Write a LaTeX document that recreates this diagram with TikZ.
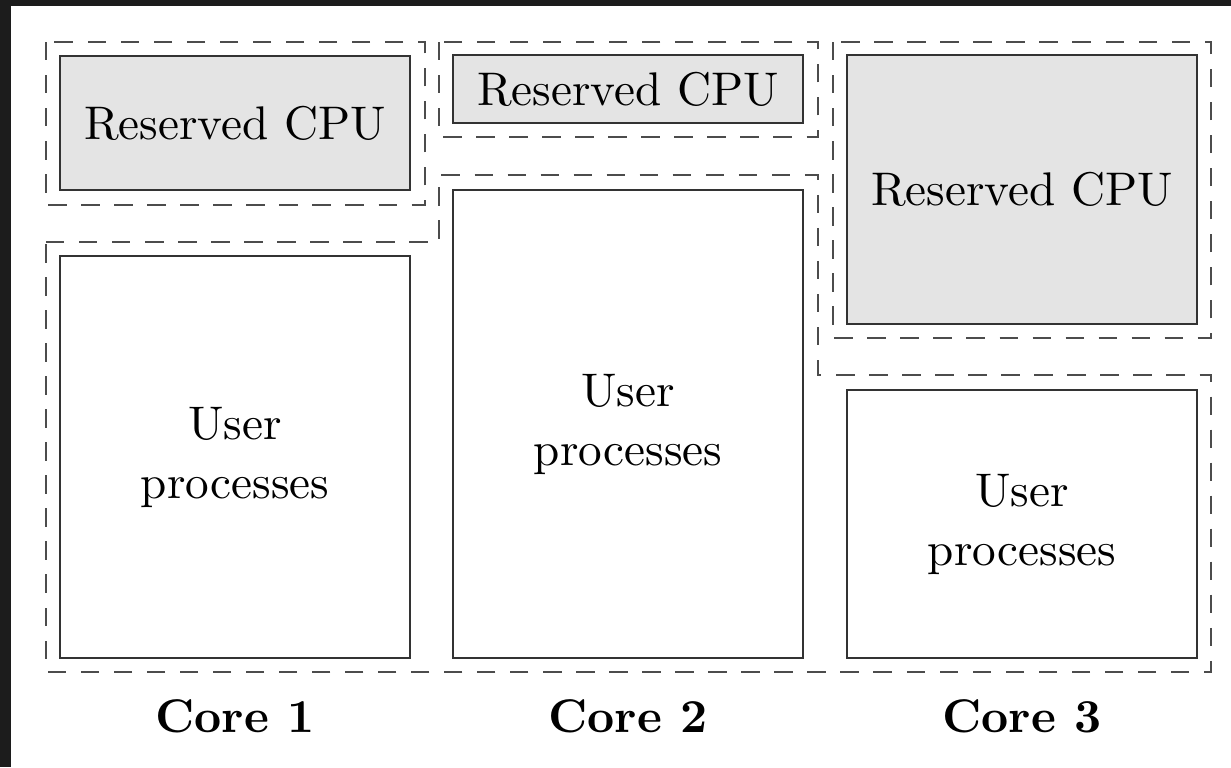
\documentclass[tikz,border=0pt]{standalone}
\usepackage{tikz}
\definecolor{resv}{RGB}{228,228,228}
\definecolor{frame}{RGB}{28,28,28}
\newcommand{\pxu}{0.2119pt}
\tikzset{
  box/.style={draw=black!80, line width=0.5pt, rectangle, inner sep=0pt, align=center, font=\fontsize{10}{12.5}\selectfont},
  resbox/.style={box, fill=resv},
  grp/.style={draw=black!70, line width=0.6pt, dash pattern=on 3.9pt off 3.1pt},
  corelbl/.style={font=\fontsize{10}{12}\selectfont\bfseries}
}
\begin{document}
\begin{tikzpicture}[x=0.2119pt, y=-0.2119pt]
  \fill[frame] (0,0) rectangle (1231,767);
  \fill[white] (11,6) rectangle (1231,767);
  \useasboundingbox (0,0) rectangle (1231,767);
  % dashed groups
  \draw[grp] (46,42) rectangle (425,205);
  \draw[grp] (439,42) rectangle (818,137);
  \draw[grp] (833,42) rectangle (1211,338);
  \draw[grp] (46,242) -- (439,242) -- (439,175) -- (818,175) -- (818,375) -- (1211,375) -- (1211,672) -- (46,672) -- cycle;
  % boxes
  \node[resbox, minimum width=350*\pxu, minimum height=134*\pxu] (r1) at (235,123) {Reserved CPU};
  \node[box, minimum width=350*\pxu, minimum height=402*\pxu] (u1) at (235,457) {User\\processes};
  \node[resbox, minimum width=350*\pxu, minimum height=68*\pxu] (r2) at (628,89) {Reserved CPU};
  \node[box, minimum width=350*\pxu, minimum height=468*\pxu] (u2) at (628,424) {User\\processes};
  \node[resbox, minimum width=350*\pxu, minimum height=269*\pxu] (r3) at (1022,189.5) {Reserved CPU};
  \node[box, minimum width=350*\pxu, minimum height=268*\pxu] (u3) at (1022,524) {User\\processes};
  % labels
  \node[corelbl] (c1) at (235,716) {Core 1};
  \node[corelbl] (c2) at (628,716) {Core 2};
  \node[corelbl] (c3) at (1022,716) {Core 3};
\end{tikzpicture}
\end{document}
